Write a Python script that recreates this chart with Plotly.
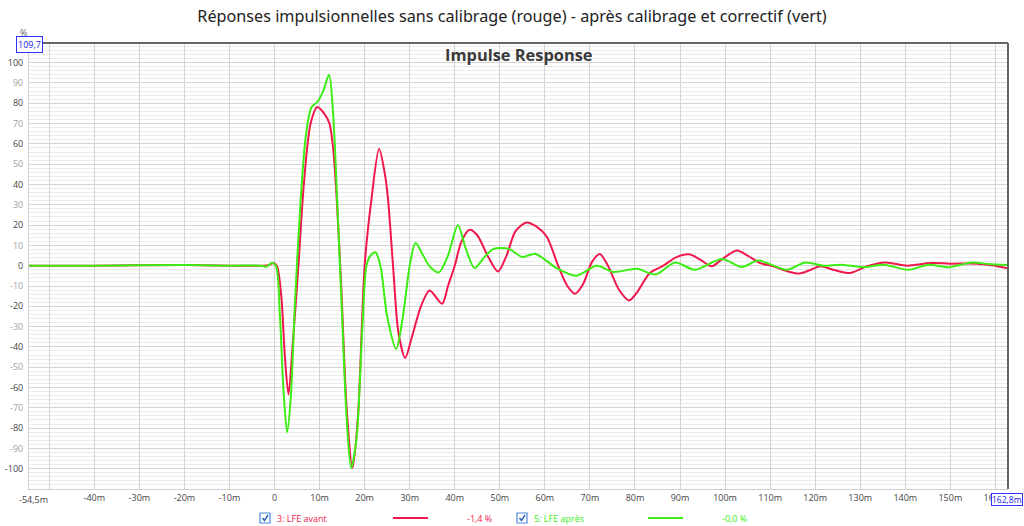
import plotly.graph_objects as go

# ---------------- data (time in ms, amplitude in %) ----------------
red_t = [-54.5, -40, -20, -10, -3, -1.2, -0.4, 0.5, 1.5, 2.3, 3.1, 4.0, 5.3, 6.5, 8.0, 9.5,
         11.0, 12.2, 13.0, 13.7, 14.8, 16.0, 17.3, 18.5, 20.0, 21.5, 23.2, 24.5, 25.2, 26.3,
         27.5, 29.0, 30.5, 32.5, 34.4, 37.2, 38.5, 40.0, 41.5, 43.3, 45, 47.5, 49.6, 51.5,
         53.5, 55.9, 58, 60.4, 63, 65, 66.7, 68.5, 70.5, 72.2, 74, 76.5, 78.7, 80.5, 83.3,
         86.3, 89, 92, 94.5, 97, 99.5, 102.6, 105, 107.8, 110.7, 113.5, 116.3, 118.5, 121.1,
         124, 127.8, 131.5, 135.6, 140.4, 145.6, 150, 155.9, 160, 162.8]
red_v = [0, 0, 0.3, 0, 0, 0.3, 1.3, 0, -15, -45, -63.5, -40, 0, 40, 70, 78.2,
         75, 70, 58, 37, -10, -70, -99.7, -75, 0, 32.5, 57.6, 45, 32.5, 0,
         -33, -45.5, -35, -20, -12.2, -18.7, -10, 0, 12, 17.7, 15, 4, -2.8, 5,
         17, 21.3, 19.5, 14.4, -0.3, -10, -13.8, -9, 2, 5.7, 0, -12, -17.1, -13, -3.6,
         0, 4, 5.6, 3, -0.3, 3.5, 7.5, 5, 1.3, -0.3, -2.5, -3.9, -2.5, -0.3,
         -2, -3.6, -0.3, 1.6, 0, 1.3, 1, 1, 0, -1.3]

green_t = [-54.5, -40, -20, -10, -3, -1.8, -0.6, 0.3, 1.2, 2.0, 2.8, 3.6, 4.5, 5.8, 7.0, 8.2,
           9.6, 10.8, 12.1, 13.0, 13.9, 15.0, 16.0, 17.0, 18.2, 19.5, 20.4, 21.3, 22.4, 23.5,
           25, 27.0, 28.5, 30, 31.3, 33, 34.4, 36.5, 38.5, 40.7, 42.5, 44.4, 46.5, 48.5,
           51.9, 55, 57.8, 60, 62.6, 67, 71.5, 75.2, 80.4, 84.6, 88.9, 93.3, 99.3, 103.7,
           107.4, 113.7, 117.8, 121.9, 125.6, 130.7, 135.2, 140.7, 145.2, 149.6, 154.8,
           158.5, 162.8]
green_v = [0, 0, 0.3, 0, 0, -0.5, 1.3, 0, -25, -62, -82.1, -65, -20, 32.5, 65, 78,
           81, 86, 94.1, 75, 32.5, -25, -75, -99.7, -85, -30, 0, 5, 6.6, 0,
           -25, -41, -25, 0, 11.2, 5, -0.3, -3.3, 5, 19.9, 8, -1.2, 4, 8.2,
           8.4, 4.3, 5.9, 3, -1.2, -4.9, 0, -3.1, -1.5, -4.3, 1.6, -2, 3.3, -0.7,
           2.5, -2, 1.6, 0, 0.5, -0.7, 0.5, -2, 0.5, -0.8, 1.6,
           0.8, 0.3]

x_ticks = [-50, -40, -30, -20, -10, 0, 10, 20, 30, 40, 50, 60, 70, 80, 90, 100,
           110, 120, 130, 140, 150, 160]
x_labels = ["", "-40m", "-30m", "-20m", "-10m", "0", "10m", "20m", "30m", "40m", "50m",
            "60m", "70m", "80m", "90m", "100m", "110m", "120m", "130m", "140m", "150m", "160m"]
y_ticks = list(range(-100, 101, 10))

RED = "#f0174c"
GREEN = "#3cee14"

# ---------------- figure ----------------
W, H = 1024, 526
L, R, T, B = 29, 1008, 43, 489


def px(x):
    return (x - L) / (R - L)


def py(y):
    return (B - y) / (B - T)


fig = go.Figure()
fig.add_trace(go.Scatter(x=red_t, y=red_v, mode="lines",
                         line=dict(color=RED, width=2, shape="spline", smoothing=0.8),
                         name="3: LFE avant", showlegend=False))
fig.add_trace(go.Scatter(x=green_t, y=green_v, mode="lines",
                         line=dict(color=GREEN, width=2, shape="spline", smoothing=0.8),
                         name="5: LFE après", showlegend=False))

y_text = []
for v in y_ticks:
    col = "#444444" if v % 20 == 0 else "#a0a0a0"
    y_text.append(f"<span style='color:{col}'>{v}</span>")

fig.update_layout(
    width=W, height=H, autosize=False,
    margin=dict(l=L, r=W - R, t=T, b=H - B, pad=0, autoexpand=False),
    paper_bgcolor="white", plot_bgcolor="white",
    font=dict(family="Open Sans, Noto Sans, sans-serif", color="#444444", size=9),
    title=dict(text="Réponses impulsionnelles sans calibrage (rouge) - après calibrage et correctif (vert)",
               x=0.5, xanchor="center", y=1 - 16 / H, yanchor="middle", automargin=False,
               font=dict(family="Noto Sans, Open Sans, sans-serif", size=16.2, color="#222222")),
    xaxis=dict(range=[-54.5, 162.8], tickvals=x_ticks, ticktext=x_labels, showgrid=True,
               gridcolor="#d4d4d4", gridwidth=1, zeroline=False, showline=True, linecolor="#cfcfcf",
               linewidth=1, ticks="", automargin=False, tickfont=dict(size=9, color="#444444")),
    yaxis=dict(range=[-110, 109.7], tickvals=y_ticks, ticktext=y_text, showgrid=True,
               gridcolor="#d4d4d4", gridwidth=1, zeroline=False, showline=True, linecolor="#cfcfcf",
               linewidth=1, ticks="", ticklabelstandoff=3, automargin=False, tickfont=dict(size=9),
               minor=dict(dtick=2, tick0=0, showgrid=True, gridcolor="#ececec", gridwidth=1)),
)

shapes = [
    dict(type="line", xref="paper", yref="paper", x0=0, x1=1, y0=1, y1=1,
         line=dict(color="#666666", width=2)),
    dict(type="line", xref="paper", yref="paper", x0=1, x1=1, y0=0, y1=1,
         line=dict(color="#666666", width=2)),
]

annotations = [
    dict(text="<b>Impulse Response</b>", xref="paper", yref="paper", x=px(519), y=py(55),
         showarrow=False, xanchor="center", yanchor="middle",
         font=dict(family="Open Sans, Noto Sans, sans-serif", size=16.4, color="#3a3a3a")),
    dict(text="%", xref="paper", yref="paper", x=px(23), y=py(33), showarrow=False,
         xanchor="center", yanchor="middle", font=dict(size=9, color="#666666")),
    dict(text="109,7", xref="paper", yref="paper", x=px(29), y=py(44), showarrow=False,
         xanchor="center", yanchor="middle", bgcolor="white", bordercolor="#3030ff", borderwidth=1,
         borderpad=1, font=dict(size=9, color="#2020ee")),
    dict(text="-54,5m", xref="paper", yref="paper", x=px(17), y=py(499), showarrow=False,
         xanchor="left", yanchor="middle", font=dict(size=9, color="#444444")),
    dict(text="162,8m", xref="paper", yref="paper", x=px(1023), y=py(499), showarrow=False,
         xanchor="right", yanchor="middle", bgcolor="white", bordercolor="#3030ff", borderwidth=1,
         borderpad=0, font=dict(size=8.5, color="#2020ee")),
]

# legend row (drawn as text + shapes)
legend_items = [
    (260, "3: LFE avant", RED, 393, 428, "-1,4 %", 465),
    (517, "5: LFE après", GREEN, 648, 683, "-0,0 %", 720),
]
ly = 518
for cb_x, label, col, l0, l1, pct, pct_x in legend_items:
    shapes.append(dict(type="rect", xref="paper", yref="paper", x0=px(cb_x), x1=px(cb_x + 10),
                       y0=py(ly + 5), y1=py(ly - 5), line=dict(color="#4a88dd", width=1.2),
                       fillcolor="white"))
    shapes.append(dict(type="path", xref="paper", yref="paper",
                       path=f"M {px(cb_x + 2.5)},{py(ly)} L {px(cb_x + 4.5)},{py(ly + 2.5)} L {px(cb_x + 8)},{py(ly - 3)}",
                       line=dict(color="#2a60b8", width=1.4)))
    annotations.append(dict(text=label, xref="paper", yref="paper", x=px(cb_x + 15), y=py(ly),
                            showarrow=False, xanchor="left", yanchor="middle",
                            font=dict(size=9, color=col)))
    shapes.append(dict(type="line", xref="paper", yref="paper", x0=px(l0), x1=px(l1),
                       y0=py(ly), y1=py(ly), line=dict(color=col, width=2)))
    annotations.append(dict(text=pct, xref="paper", yref="paper", x=px(pct_x), y=py(ly),
                            showarrow=False, xanchor="left", yanchor="middle",
                            font=dict(size=9, color=col)))

fig.update_layout(shapes=shapes, annotations=annotations)
fig.write_html("out.html", config={"displayModeBar": False},
               post_script="document.body.style.margin='0';document.body.style.overflow='hidden';")
